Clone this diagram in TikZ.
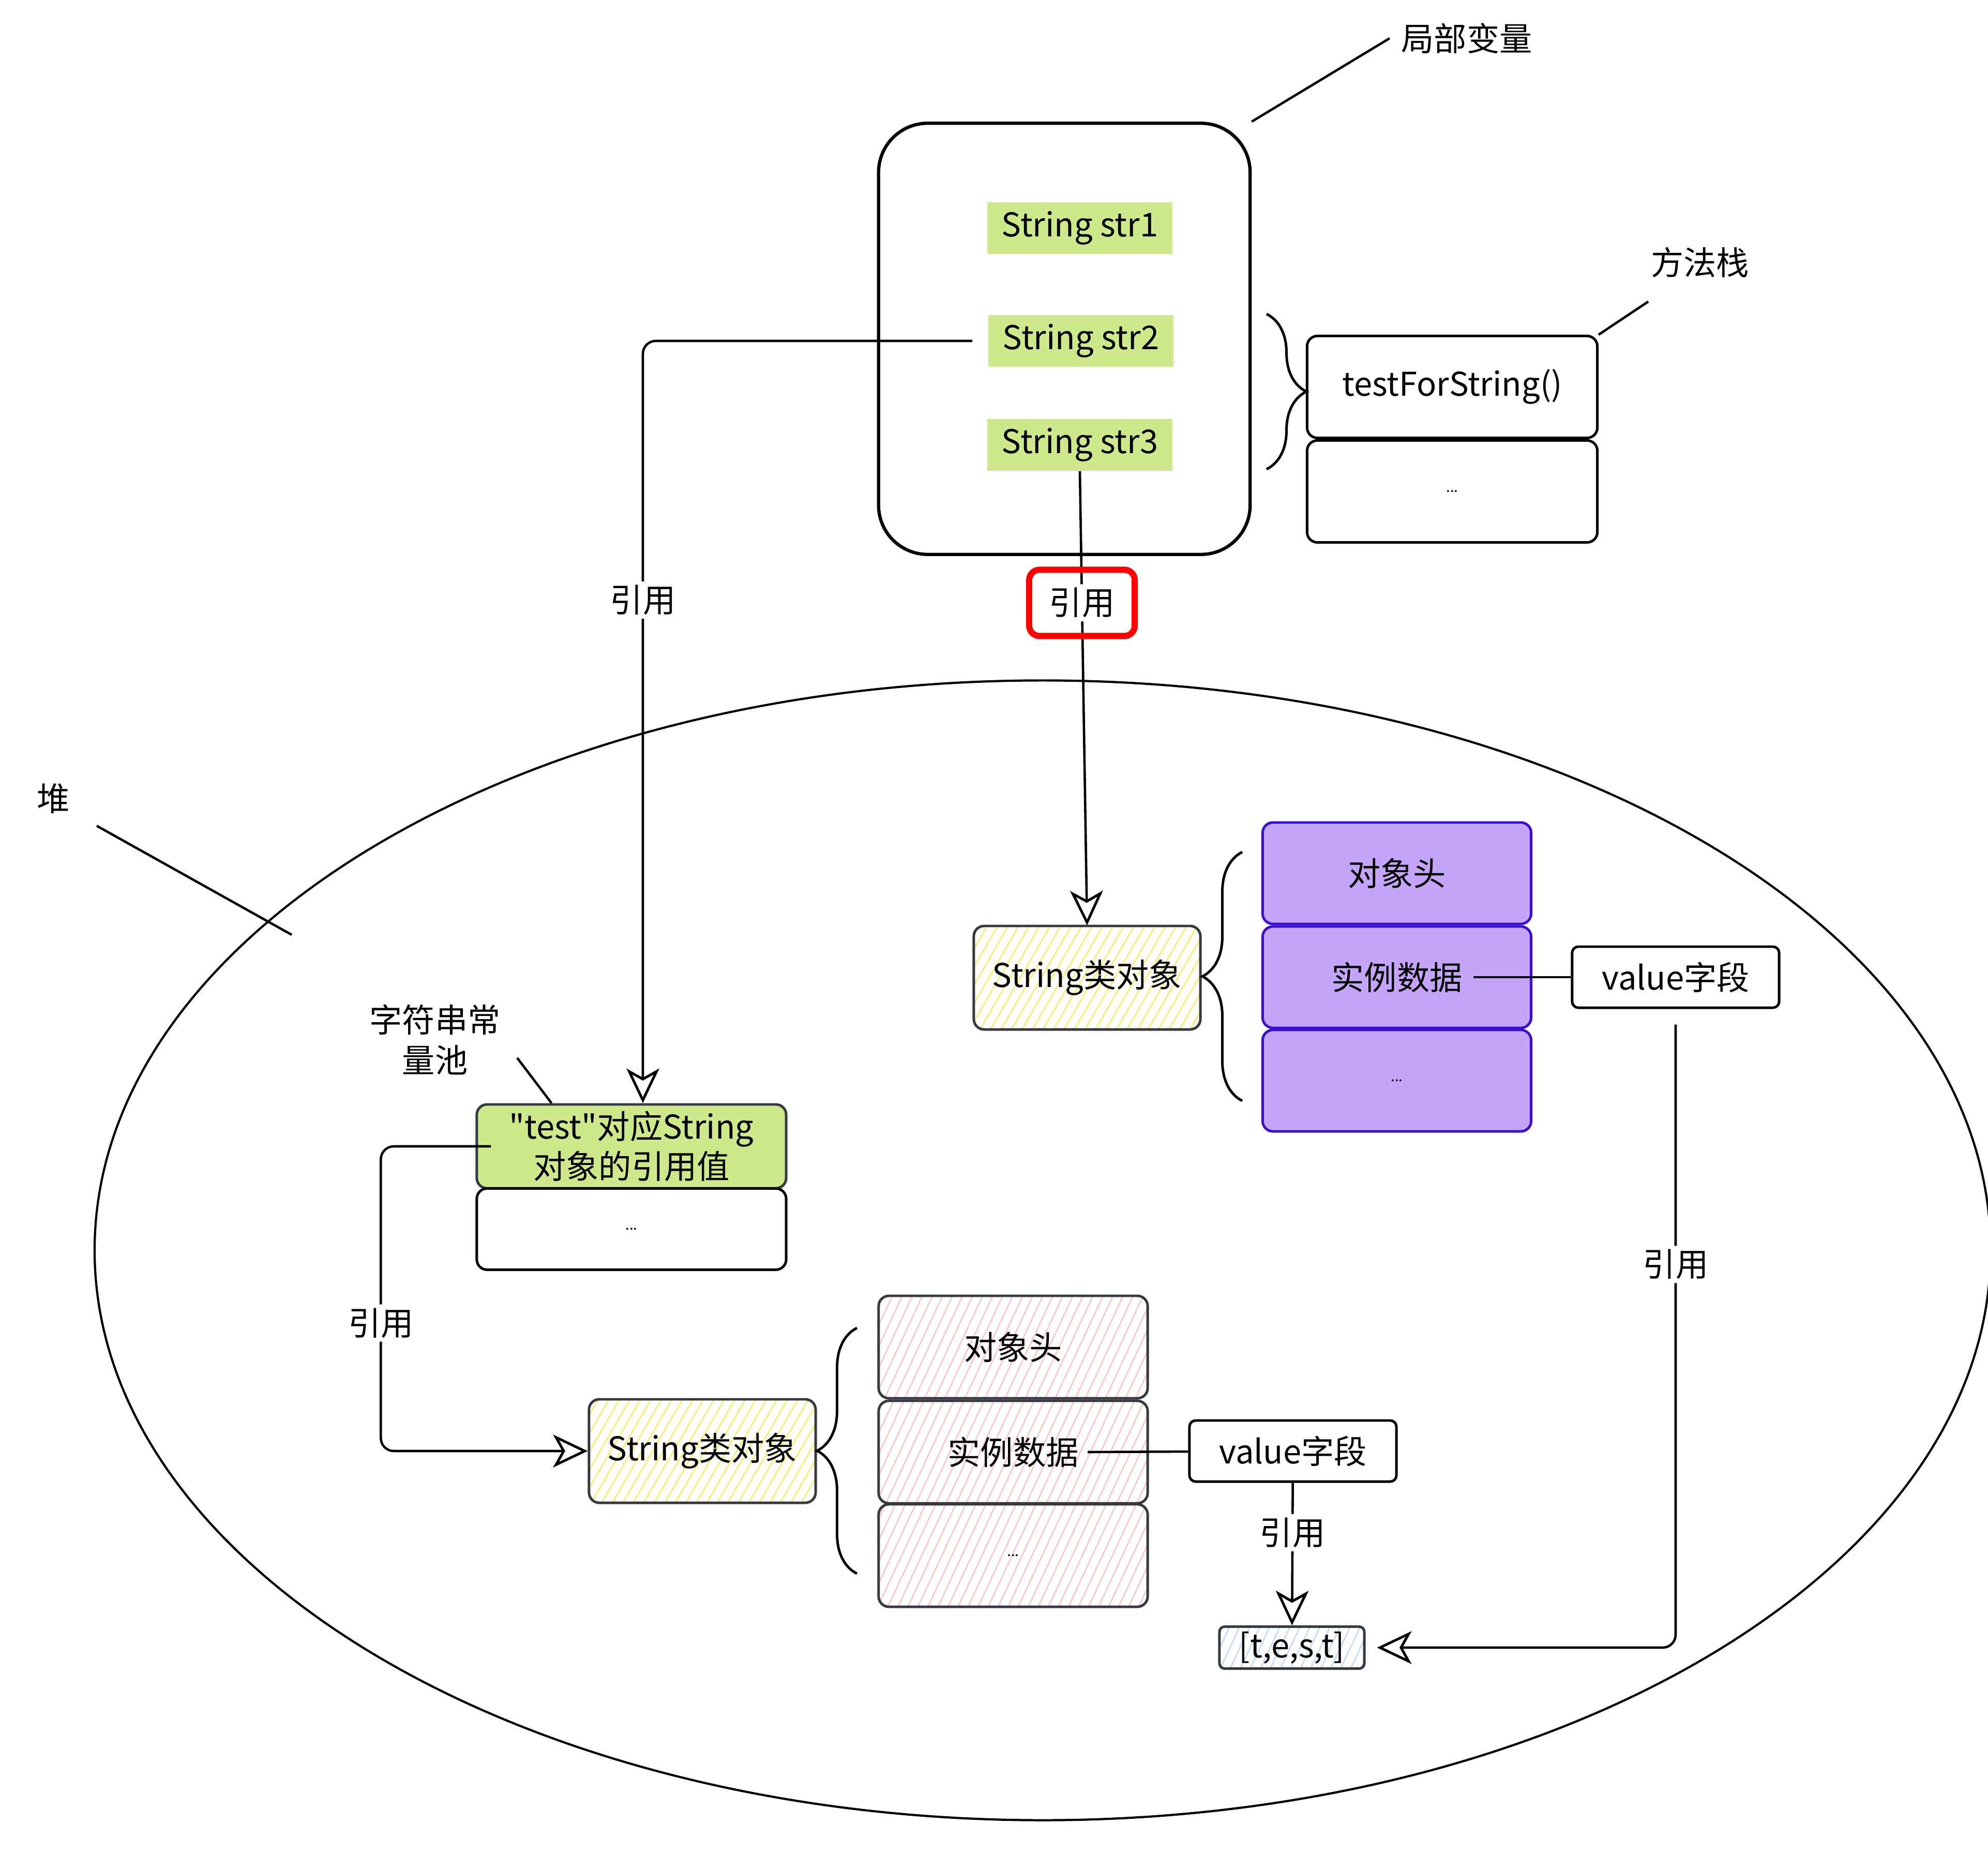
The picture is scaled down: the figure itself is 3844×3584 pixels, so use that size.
\documentclass[tikz,border=0pt]{standalone}
\usepackage{fontspec}
\setmainfont{Noto Sans CJK SC}
\newfontfamily\jvmfont{Noto Sans CJK SC}
\usepackage{tikz}
\usetikzlibrary{arrows.meta,decorations.pathreplacing,patterns.meta}
\definecolor{jvmgreen}{HTML}{CDE98C}
\definecolor{jvmlilac}{HTML}{C5A5FA}
\definecolor{jvmviolet}{HTML}{3A10D0}
\definecolor{jvmgrey}{HTML}{343A40}
\definecolor{jvmpink}{HTML}{FFBCBC}
\definecolor{jvmyellow}{HTML}{F2EE50}
\definecolor{jvmblue}{HTML}{B4D6FF}
\newcommand{\ellip}{{\fontsize{8}{10}\selectfont ...}}

\begin{document}
\begin{tikzpicture}[x=0.01cm,y=-0.01cm,
  every node/.style={font=\jvmfont\fontsize{18}{22}\selectfont},
  link/.style={line width=1.3pt},
  ref/.style={link,rounded corners=0.25cm,-{Stealth[open,length=19pt,width=18pt,inset=5pt,line width=1.4pt]}},
  tag/.style={fill=white,inner sep=2pt},
  slot/.style={fill=jvmgreen,minimum width=3.58cm,minimum height=1cm},
  frm/.style={draw,line width=1.4pt,rounded corners=0.2cm,minimum width=5.61cm,minimum height=1.97cm},
  objbox/.style={draw=jvmgrey,line width=1.4pt,rounded corners=0.2cm,minimum width=4.38cm,minimum height=2cm,
    pattern={Lines[angle=60,distance=5pt,line width=0.6pt]},pattern color=jvmyellow},
  pcell/.style={draw=jvmviolet,fill=jvmlilac,line width=1.4pt,rounded corners=0.2cm,minimum width=5.19cm,minimum height=1.96cm},
  rcell/.style={draw=jvmgrey,line width=1.4pt,rounded corners=0.2cm,minimum width=5.2cm,minimum height=1.98cm,
    pattern={Lines[angle=65,distance=5pt,line width=0.6pt]},pattern color=jvmpink},
  fieldbox/.style={draw,line width=1.4pt,rounded corners=0.12cm,minimum width=4cm,minimum height=1.18cm},
  brc/.style={line width=1.4pt,decorate,decoration={brace,amplitude=0.77cm}}]
\useasboundingbox (0,0) rectangle (3844,3584);
\draw[line width=1.2pt] (2016,2417) ellipse [x radius=18.32cm, y radius=11.01cm];

\node[draw,line width=1.8pt,rounded corners=0.95cm,minimum width=7.18cm,minimum height=8.33cm] (locals) at (2058,655) {};
\node[slot] (str1) at (2088,441) {String str1};
\node[slot] (str2) at (2090,659) {String str2};
\node[slot] (str3) at (2088,860) {String str3};
\node (lvlabel) at (2836,74) {局部变量};
\draw[link] (locals.north east) -- ([xshift=-0.1cm]lvlabel.west);

\node[frm] (frame) at (2808,748) {testForString()};
\node[frm] (frame2) at (2808,950) {\ellip};
\node (mslabel) at (3287,507) {方法栈};
\coordinate (mstip) at (3187,583);
\draw[link] (frame.north east) -- (mstip);
\draw[brc] (2449,607) -- (2449,907);

\node (heaplbl) at (103,1544) {堆};
\coordinate (heapedge) at (564,1807);
\draw[link] ([shift={(40,11)}]heaplbl.south east) -- (heapedge);

\node[objbox] (hobj1) at (2102,1890) {String类对象};
\foreach \n/\t/\yy in {phead/对象头/1688,pdata/实例数据/1889,pmore/\ellip/2089}
  \node[pcell] (\n) at (2701,\yy) {\t};
\draw[brc] (2402,2128) -- (2402,1647);
\node[fieldbox] (pval) at (3240,1889) {value字段};

\node[align=center] (pool) at (841,2010) {字符串常\\量池};
\node[draw=jvmgrey,fill=jvmgreen,line width=1.4pt,rounded corners=0.2cm,minimum width=5.98cm,minimum height=1.62cm,align=center,inner sep=1pt] (poolref) at (1221,2216) {"test"对应String\\对象的引用值};
\node[frm,minimum width=5.98cm,minimum height=1.57cm] (poolmore) at (1221,2376) {\ellip};
\draw[link] ([shift={(20,35)}]pool.east) -- ([xshift=1.47cm]poolref.north west);

\node[objbox] (hobj2) at (1358,2805) {String类对象};
\foreach \n/\t/\yy in {rhead/对象头/2604,rdata/实例数据/2807,rmore/\ellip/3007}
  \node[rcell] (\n) at (1959,\yy) {\t};
\draw[brc] (1657,3042) -- (1657,2567);
\node[fieldbox] (rval) at (2500,2805) {value字段};
\node[draw=jvmgrey,line width=1.4pt,rounded corners=0.1cm,minimum width=2.8cm,minimum height=0.81cm,inner sep=1pt,
  pattern={Lines[angle=65,distance=5pt,line width=0.6pt]},pattern color=jvmblue] (chars) at (2498,3185) {[t,e,s,t]};

\draw[ref,shorten <=0.3cm] (str2.west) -| node[tag,pos=0.67] (r1) {引用} ([xshift=0.22cm]poolref.north);
\draw[ref] (str3.south) -- node[tag,pos=0.29] (r2) {引用} (hobj1.north);
\node[draw=red,line width=3.4pt,rounded corners=0.2cm,minimum width=2.04cm,minimum height=1.28cm] (redmark) at (r2) {};
\draw[ref] ([xshift=0.3cm]poolref.west) -- ++(-213,0) |- node[tag,pos=0.29] (r3) {引用} (hobj2.west);
\draw[link] ([xshift=1.48cm]pdata.center) -- (pval);
\draw[ref,shorten <=0.3cm,shorten >=0.22cm] (pval.south) |- node[tag,pos=0.2] (r4) {引用} (chars.east);
\draw[link] ([xshift=1.44cm]rdata.center) -- (rval);
\draw[ref] (rval) -- node[tag,pos=0.35] (r5) {引用} (chars);
\end{tikzpicture}
\end{document}
